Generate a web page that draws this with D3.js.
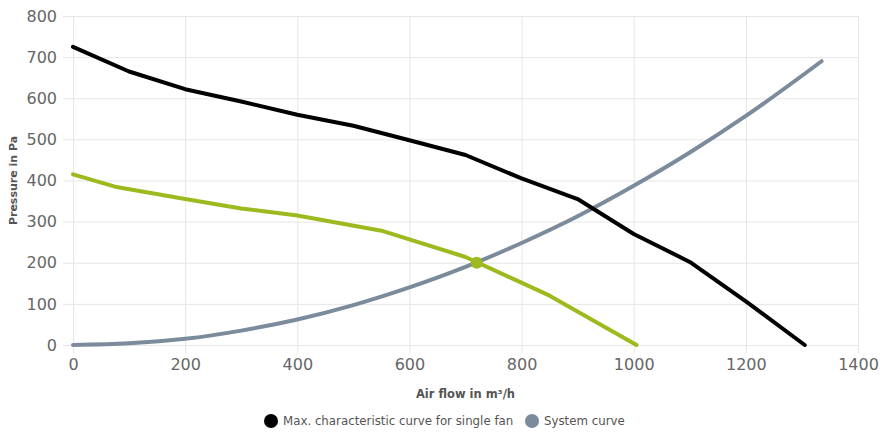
<!DOCTYPE html>
<html>
<head>
<meta charset="utf-8">
<script src="https://cdn.jsdelivr.net/npm/d3@7"></script>
<style>
  body { margin: 0; background: #fff; font-family: "DejaVu Sans", sans-serif; }
  svg text { font-family: "DejaVu Sans", sans-serif; }
</style>
</head>
<body>
<svg id="chart" width="880" height="435"></svg>
<script>
// air flow (m³/h) vs pressure (Pa)
let fanFlow = [0, 100, 200, 300, 400, 500, 600, 700, 800, 900, 1000, 1100, 1200, 1305];
let fanPressure = [725, 665, 622, 592, 560, 533, 498, 462, 405, 355, 270, 202, 106, 0];

let workFlow = [0, 75, 200, 300, 400, 550, 700, 850, 1005];
let workPressure = [415, 385, 355, 332, 315, 278, 214, 120, 0];

let systemFlow = [0, 100, 200, 300, 400, 500, 600, 700, 800, 900, 1000, 1100, 1200, 1335];
let systemPressure = [0, 4, 15, 35, 62, 97, 140, 190, 248, 313, 387, 468, 557, 690];

let operatingPoint = [720, 200];

let xTicks = [0, 200, 400, 600, 800, 1000, 1200, 1400];
let yTicks = [0, 100, 200, 300, 400, 500, 600, 700, 800];

let svg = d3.select("#chart");
let margin = { top: 16, right: 22, bottom: 90, left: 73 };
let width = 880 - margin.left - margin.right;
let height = 435 - margin.top - margin.bottom;

let g = svg.append("g")
    .attr("transform", "translate(" + margin.left + "," + margin.top + ")");

let x = d3.scaleLinear().domain([0, 1400]).range([0, width]);
let y = d3.scaleLinear().domain([0, 800]).range([height, 0]);

// grid
g.append("g")
    .attr("transform", "translate(0," + height + ")")
    .call(d3.axisBottom(x).tickValues(xTicks).tickSize(-height).tickSizeOuter(0).tickFormat(""))
    .call(a => a.select(".domain").remove())
    .call(a => a.selectAll("line").attr("stroke", "#e6e6e6"));
g.append("g")
    .call(d3.axisLeft(y).tickValues(yTicks).tickSize(-width).tickSizeOuter(0).tickFormat(""))
    .call(a => a.select(".domain").remove())
    .call(a => a.selectAll("line").attr("stroke", "#e6e6e6"));

// axes with small outside ticks
let xAxis = g.append("g")
    .attr("transform", "translate(0," + height + ")")
    .call(d3.axisBottom(x).tickValues(xTicks).tickSize(8).tickPadding(6).tickSizeOuter(0).tickFormat(d3.format("d")));
xAxis.select(".domain").remove();
xAxis.selectAll("line").attr("stroke", "#e6e6e6");
xAxis.selectAll("text").attr("fill", "#666").style("font-size", "16px");

let yAxis = g.append("g")
    .call(d3.axisLeft(y).tickValues(yTicks).tickSize(10).tickPadding(6).tickSizeOuter(0).tickFormat(d3.format("d")));
yAxis.select(".domain").remove();
yAxis.selectAll("line").attr("stroke", "#e6e6e6");
yAxis.selectAll("text").attr("fill", "#666").style("font-size", "16px");

// axis titles
svg.append("text")
    .attr("x", margin.left + width / 2)
    .attr("y", 398)
    .attr("text-anchor", "middle")
    .attr("fill", "#555")
    .style("font-size", "11.5px")
    .style("font-weight", "bold")
    .text("Air flow in m³/h");

svg.append("text")
    .attr("transform", "translate(17," + (margin.top + height / 2) + ") rotate(-90)")
    .attr("text-anchor", "middle")
    .attr("fill", "#555")
    .style("font-size", "11px")
    .style("font-weight", "bold")
    .text("Pressure in Pa");

function drawCurve(xs, ys, color, curve) {
    let pts = xs.map((d, i) => [d, ys[i]]);
    let line = d3.line()
        .x(d => x(d[0]))
        .y(d => y(d[1]))
        .curve(curve);
    g.append("path")
        .datum(pts)
        .attr("fill", "none")
        .attr("stroke", color)
        .attr("stroke-width", 4)
        .attr("stroke-linejoin", "round")
        .attr("stroke-linecap", "round")
        .attr("d", line);
}

drawCurve(systemFlow, systemPressure, "#7b8b9b", d3.curveMonotoneX);
drawCurve(fanFlow, fanPressure, "#000000", d3.curveLinear);
drawCurve(workFlow, workPressure, "#9cba1e", d3.curveLinear);

g.append("circle")
    .attr("cx", x(operatingPoint[0]))
    .attr("cy", y(operatingPoint[1]))
    .attr("r", 6)
    .attr("fill", "#9cba1e");

// legend
let legend = [
    { name: "Max. characteristic curve for single fan", color: "#000000", x: 271 },
    { name: "System curve", color: "#7b8b9b", x: 532 }
];
legend.forEach(function(l) {
    svg.append("circle")
        .attr("cx", l.x)
        .attr("cy", 421)
        .attr("r", 7)
        .attr("fill", l.color);
    svg.append("text")
        .attr("x", l.x + 12)
        .attr("y", 425)
        .attr("fill", "#555")
        .style("font-size", "11.8px")
        .text(l.name);
});
</script>
</body>
</html>
